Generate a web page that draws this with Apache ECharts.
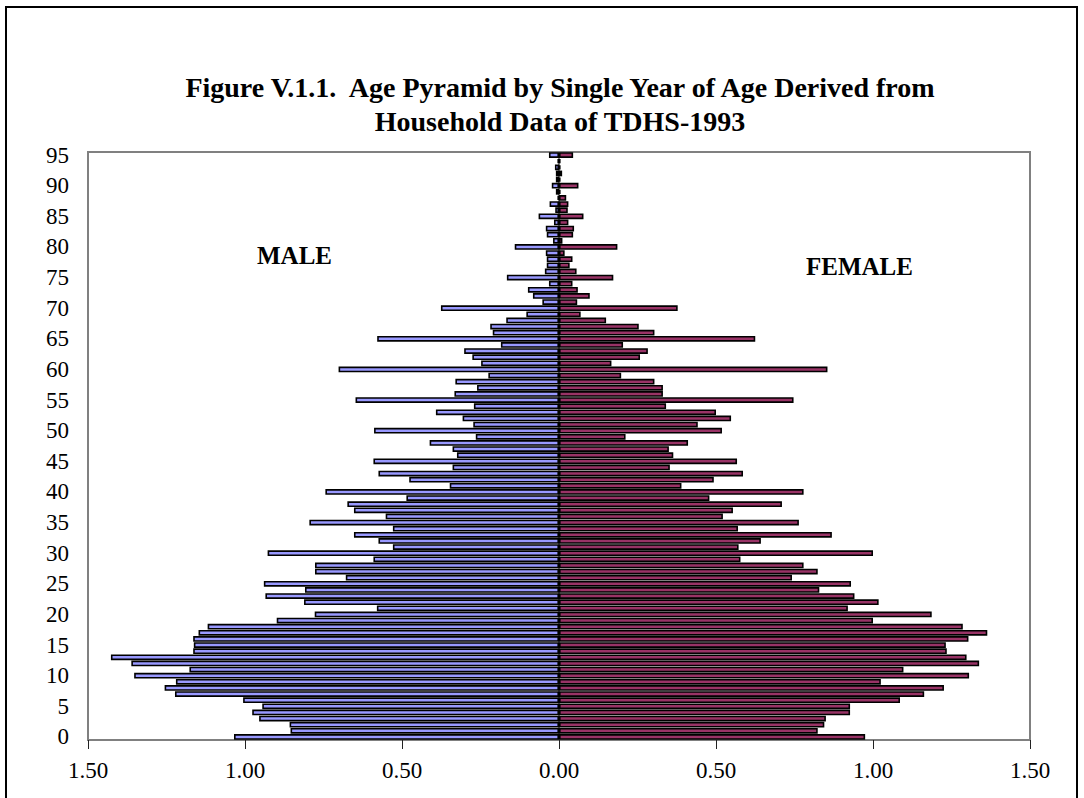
<!DOCTYPE html>
<html>
<head>
<meta charset="utf-8">
<script src="https://cdn.jsdelivr.net/npm/echarts@6/dist/echarts.min.js"></script>
<style>
  html, body { margin: 0; padding: 0; background: #fff; }
  #frame { position: absolute; left: 5px; top: 6px; width: 1073px; height: 820px; border: 2px solid #000; box-sizing: border-box; }
  #chart { position: absolute; left: 0; top: 0; width: 1084px; height: 798px; }
</style>
</head>
<body>
<div id="frame"></div>
<div id="chart"></div>
<script>
// Ages 0..95
const ages = [];
for (let a = 0; a <= 95; a++) ages.push(String(a));

// Percent of population by single year of age
const male = [
  1.035, 0.855, 0.858, 0.955, 0.977, 0.945, 1.006, 1.223, 1.256, 1.220,
  1.353, 1.177, 1.362, 1.427, 1.165, 1.163, 1.165, 1.148, 1.119, 0.899,
  0.778, 0.580, 0.812, 0.935, 0.809, 0.940, 0.679, 0.777, 0.777, 0.591,
  0.928, 0.529, 0.575, 0.653, 0.529, 0.795, 0.552, 0.653, 0.674, 0.486,
  0.744, 0.348, 0.477, 0.575, 0.339, 0.591, 0.325, 0.339, 0.412, 0.265,
  0.589, 0.273, 0.307, 0.392, 0.271, 0.648, 0.333, 0.261, 0.330, 0.225,
  0.702, 0.248, 0.276, 0.302, 0.185, 0.579, 0.211, 0.219, 0.168, 0.104,
  0.376, 0.053, 0.083, 0.099, 0.032, 0.166, 0.045, 0.039, 0.039, 0.042,
  0.141, 0.019, 0.039, 0.042, 0.016, 0.065, 0.012, 0.030, 0.005, 0.010,
  0.023, 0.010, 0.010, 0.013, 0.005, 0.032
];
const female = [
  0.975, 0.824, 0.845, 0.850, 0.927, 0.927, 1.086, 1.163, 1.226, 1.025,
  1.306, 1.097, 1.338, 1.298, 1.235, 1.232, 1.304, 1.364, 1.286, 1.000,
  1.187, 0.920, 1.018, 0.941, 0.829, 0.930, 0.742, 0.824, 0.779, 0.578,
  1.000, 0.572, 0.643, 0.869, 0.570, 0.764, 0.522, 0.554, 0.710, 0.479,
  0.779, 0.390, 0.493, 0.586, 0.353, 0.567, 0.364, 0.350, 0.411, 0.212,
  0.519, 0.442, 0.548, 0.500, 0.341, 0.747, 0.331, 0.331, 0.304, 0.198,
  0.855, 0.167, 0.258, 0.283, 0.204, 0.625, 0.304, 0.254, 0.150, 0.069,
  0.378, 0.058, 0.098, 0.060, 0.043, 0.173, 0.056, 0.034, 0.043, 0.018,
  0.186, 0.011, 0.045, 0.048, 0.030, 0.078, 0.028, 0.030, 0.023, 0.005,
  0.062, 0.005, 0.010, 0.005, 0.005, 0.045
];

const titleLine1 = 'Figure V.1.1.  Age Pyramid by Single Year of Age Derived from';
const titleLine2 = 'Household Data of TDHS-1993';
const maleLabel = 'MALE';
const femaleLabel = 'FEMALE';

const serif = '"Liberation Serif", "Times New Roman", serif';

const chart = echarts.init(document.getElementById('chart'), null, { renderer: 'svg' });
chart.setOption({
  animation: false,
  title: [
    { text: titleLine1, left: 555, top: 68, textAlign: 'center',
      textStyle: { fontFamily: serif, fontSize: 28, fontWeight: 'bold', color: '#000' } },
    { text: titleLine2, left: 555, top: 102, textAlign: 'center',
      textStyle: { fontFamily: serif, fontSize: 28, fontWeight: 'bold', color: '#000' } }
  ],
  graphic: [
    { type: 'text', left: 257, top: 243, style: { text: maleLabel, font: 'bold 25px ' + serif, fill: '#000' } },
    { type: 'text', left: 806, top: 254, style: { text: femaleLabel, font: 'bold 25px ' + serif, fill: '#000' } }
  ],
  grid: { left: 88, right: 54, top: 152, bottom: 58, show: true, borderColor: '#808080', borderWidth: 2, containLabel: false },
  xAxis: {
    type: 'value', min: -1.5, max: 1.5, interval: 0.5,
    splitLine: { show: false },
    axisLine: { show: true, onZero: false, lineStyle: { color: '#808080', width: 2 } },
    axisTick: { show: true, length: 9, lineStyle: { color: '#222', width: 1 } },
    axisLabel: { margin: 19, fontFamily: serif, fontSize: 23, color: '#000',
      formatter: v => Math.abs(v).toFixed(2) }
  },
  yAxis: {
    type: 'category', data: ages,
    axisLine: { show: true, lineStyle: { color: '#808080', width: 2 } },
    axisTick: { show: false },
    axisLabel: { interval: 4, margin: 19, fontFamily: serif, fontSize: 23, color: '#000' }
  },
  series: [
    { name: 'Male', type: 'bar', data: male.map(v => -v), barWidth: '94%', barGap: '-100%',
      itemStyle: { color: '#9999FF', borderColor: '#000', borderWidth: 1.6 } },
    { name: 'Female', type: 'bar', data: female, barWidth: '94%', barGap: '-100%',
      itemStyle: { color: '#993366', borderColor: '#000', borderWidth: 1.6 } }
  ]
});
</script>
</body>
</html>
